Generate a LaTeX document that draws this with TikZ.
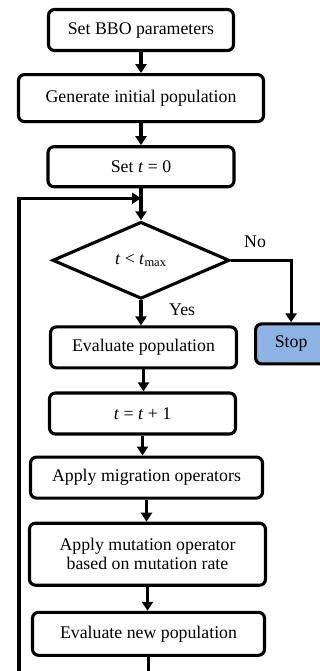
\documentclass[tikz,border=0pt]{standalone}
\usepackage{fontspec}
\setmainfont{Liberation Serif}
\usepackage{tikz}
\usetikzlibrary{arrows.meta, positioning, shapes.geometric}
\definecolor{stopblue}{RGB}{141,179,226}

\begin{document}
\begin{tikzpicture}[node distance=11pt, line width=1.55pt,
  font=\fontsize{8.9}{9.5}\selectfont,
  proc/.style={draw, rounded corners=3pt, align=center, inner sep=0pt, minimum height=20.5pt},
  dec/.style={draw, diamond, inner sep=0pt, minimum width=88.5pt, minimum height=38.5pt},
  arr/.style={-{Triangle[width=5.5pt,length=4.5pt]}}]
  \clip (0,0) rectangle (160pt,-335.5pt);
  \node[proc, minimum width=92.5pt] (params) at (70.5pt,-15pt) {Set BBO parameters};
  \node[proc, minimum width=122.5pt, minimum height=23.5pt, below=10.5pt of params] (initpop) {Generate initial population};
  \node[proc, minimum width=93pt, minimum height=20pt, below=of initpop] (sett) {Set \textit{t} = 0};
  \coordinate[below=5pt of sett] (join);
  \node[dec, below=16pt of sett] (cond) {\textit{t} < \textit{t}\textsubscript{max}};
  \node[proc, minimum width=93pt, below=12.5pt of cond, xshift=1.25pt] (evalpop) {Evaluate population};
  \node[proc, fill=stopblue, minimum width=35.5pt, minimum height=20pt, right=8pt of evalpop, yshift=1.75pt] (stop) {Stop};
  \node[proc, minimum width=93pt, below=of evalpop, xshift=-0.5pt] (incr) {\textit{t} = \textit{t} + 1};
  \node[proc, minimum width=116pt, below=10pt of incr, xshift=2pt] (migr) {Apply migration operators};
  \node[proc, minimum width=118pt, minimum height=31pt, below=of migr, xshift=0.5pt] (mut) {Apply mutation operator\\based on mutation rate};
  \node[proc, minimum width=116pt, minimum height=21.5pt, below=12pt of mut, xshift=0.5pt] (evalnew) {Evaluate new population};
  \coordinate (bottom) at (9.5pt,-340pt);

  \foreach \a/\b in {params/initpop, initpop/sett, evalpop/incr, incr/migr, migr/mut, mut/evalnew}
    \draw[arr] (\a.south) -- (\a.south |- \b.north);
  \draw[arr] (sett.south) -- (cond.north);
  \draw[arr] (cond.south) -- (cond.south |- evalpop.north) node[pos=0.36, right=10pt] {Yes};
  \draw[arr] (cond.east) -| (stop.north) node[pos=0.2, above=2pt] {No};
  \draw (evalnew.south) -- (evalnew.south |- bottom);
  \draw[arr] (bottom) |- (join);
\end{tikzpicture}
\end{document}
